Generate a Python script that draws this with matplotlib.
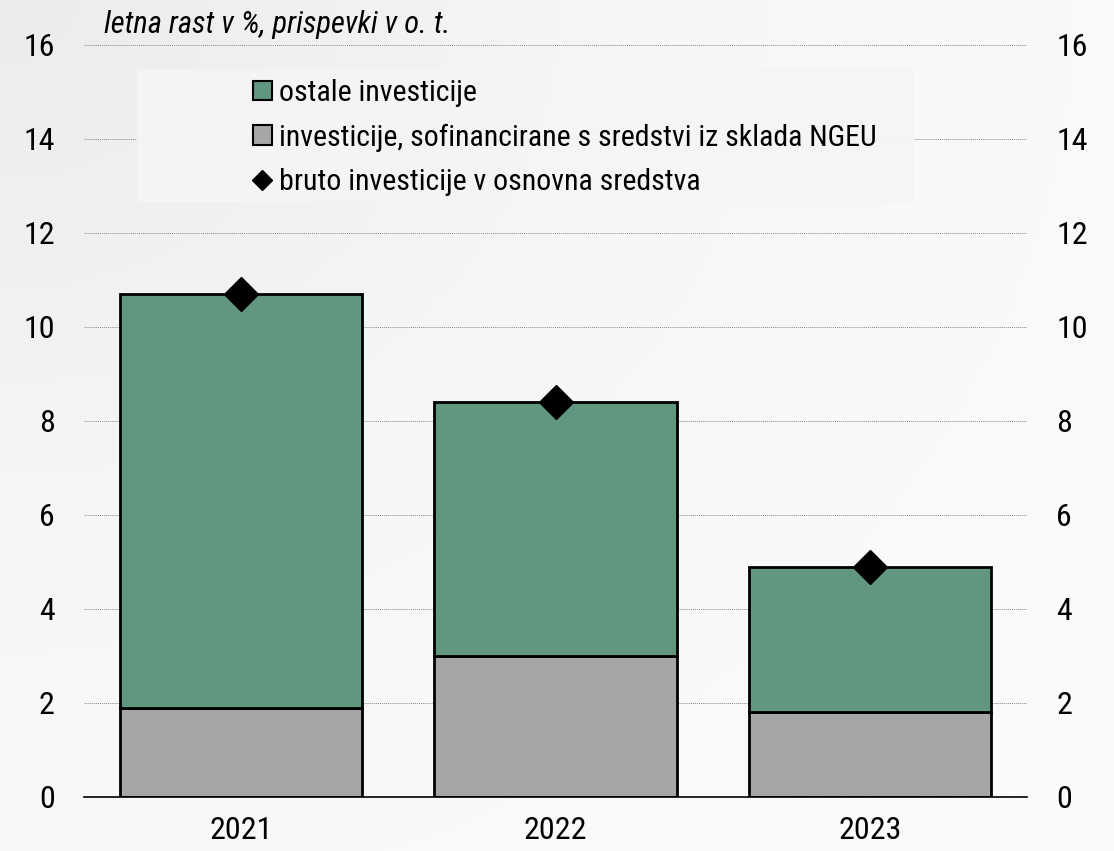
import matplotlib
matplotlib.use("Agg")
import matplotlib.pyplot as plt
import numpy as np
from matplotlib.patches import Rectangle, Patch
from matplotlib.lines import Line2D
from matplotlib.colors import LinearSegmentedColormap

plt.rcParams['font.family'] = ['Roboto Condensed', 'Liberation Sans', 'DejaVu Sans']

years = ['2021', '2022', '2023']
ngeu = [1.9, 3.0, 1.8]
other = [8.8, 5.4, 3.1]
total = [10.7, 8.4, 4.9]
yticks = [0, 2, 4, 6, 8, 10, 12, 14, 16]

labels = ['ostale investicije',
          'investicije, sofinancirane s sredstvi iz sklada NGEU',
          'bruto investicije v osnovna sredstva']
title = 'letna rast v %, prispevki v o. t.'

green = '#61967f'
gray = '#a6a6a6'

W, H = 1114, 851
fig = plt.figure(figsize=(W / 100, H / 100), dpi=100)

# background gradient (light grey top-left to near white)
bg = fig.add_axes([0, 0, 1, 1], zorder=-10)
gx, gy = np.meshgrid(np.linspace(0, 1, 300), np.linspace(0, 1, 300))
grad = np.clip(np.sqrt((gx * 1.0) ** 2 + (gy * 0.9) ** 2) / 1.1, 0, 1)
cmap = LinearSegmentedColormap.from_list('bg', ['#eaedeb', '#f5f6f5', '#fafafa'])
bg.imshow(grad, cmap=cmap, aspect='auto', extent=[0, 1, 0, 1], origin='upper')
bg.axis('off')

ax = fig.add_axes([84 / W, 1 - 797 / H, (1027 - 84) / W, (797 - 45) / H])
ax.patch.set_alpha(0)
x = np.arange(len(years))
ax.bar(x, ngeu, width=0.77, color=gray, edgecolor='black', linewidth=2, zorder=3)
ax.bar(x, other, width=0.77, bottom=ngeu, color=green, edgecolor='black', linewidth=2, zorder=3)
ax.plot(x, total, linestyle='none', marker='D', markersize=17, color='black', zorder=5)

ax.set_xlim(-0.5, 2.5)
ax.set_ylim(0, 16)
ax.set_yticks(yticks)
ax.set_xticks(x)
ax.set_xticklabels(years)
for s in ['top', 'right', 'left']:
    ax.spines[s].set_visible(False)
ax.spines['bottom'].set_color('black')
ax.spines['bottom'].set_linewidth(1.2)
ax.spines['bottom'].set_zorder(4)
ax.grid(axis='y', color='#888888', linestyle=(0, (1, 1)), linewidth=0.7, zorder=0)
ax.tick_params(axis='both', length=0, labelsize=23)
ax.tick_params(axis='y', pad=21, labelright=True, right=False)
ax.tick_params(axis='x', pad=14)

# legend background
fig.patches.append(Rectangle((137 / W, 1 - 202 / H), (914 - 137) / W, (202 - 69) / H,
                             transform=fig.transFigure, facecolor='#f4f5f4',
                             edgecolor='none', alpha=0.92, zorder=1))

handles = [Patch(facecolor=green, edgecolor='black', linewidth=1.5),
           Patch(facecolor=gray, edgecolor='black', linewidth=1.5),
           Line2D([], [], linestyle='none', marker='D', markersize=10, color='black')]
leg = fig.legend(handles, labels, loc='upper left', bbox_to_anchor=(253 / W, 1 - 79 / H),
                 frameon=False, fontsize=21.5, handlelength=0.62, handleheight=0.62,
                 handletextpad=0.25, labelspacing=0.55, borderpad=0, borderaxespad=0)
leg.set_zorder(6)

fig.text(104 / W, 1 - 33 / H, title, fontsize=22, style='italic', va='baseline', ha='left')

fig.savefig('out.png', dpi=100)
